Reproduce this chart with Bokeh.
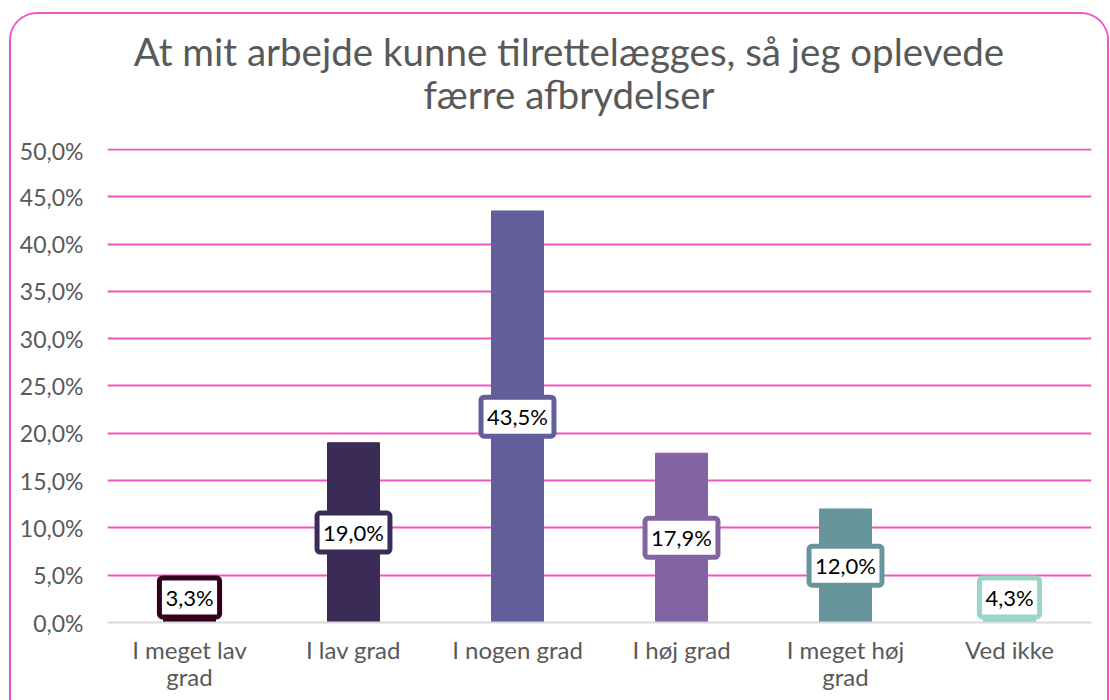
from bokeh.plotting import figure
from bokeh.models import Range1d, FixedTicker, ColumnDataSource
from bokeh.layouts import column
from bokeh.embed import file_html
from bokeh.resources import INLINE
from bokeh.core.properties import value

categories = ["I meget lav\ngrad", "I lav grad", "I nogen grad", "I høj grad", "I meget høj\ngrad", "Ved ikke"]
values = [3.3, 19.0, 43.5, 17.9, 12.0, 4.3]
labels = ["3,3%", "19,0%", "43,5%", "17,9%", "12,0%", "4,3%"]
colors = ["#33001f", "#3b2c57", "#635d9b", "#8264a2", "#68959c", "#9ad6c8"]
y_ticks = [0, 5, 10, 15, 20, 25, 30, 35, 40, 45, 50]
y_tick_labels = ["0,0%", "5,0%", "10,0%", "15,0%", "20,0%", "25,0%", "30,0%", "35,0%", "40,0%", "45,0%", "50,0%"]
title_lines = ["At mit arbejde kunne tilrettelægges, så jeg oplevede", "færre afbrydelser"]

FONT = "Lato"
GRID = "#f055c3"
W = 1096
TH = 122            # height of the title strip
H = 564             # height of the chart part
ML, MR, MT, MB = 96, 16, 12, 78

# ---- title strip (its own small figure, pixel coordinates) ----
pt = figure(width=W, height=TH, x_range=Range1d(0, W), y_range=Range1d(0, TH),
            x_axis_type=None, y_axis_type=None, output_backend="svg", toolbar_location=None,
            min_border=0, min_border_left=0, min_border_right=0, min_border_top=0,
            min_border_bottom=0)
pt.outline_line_color = None
pt.grid.visible = False
pt.border_fill_color = "white"
pt.text(x=[514, 514], y=[86, 43], text=title_lines, text_align="center", text_baseline="middle",
        text_font=value(FONT), text_font_size="38.5px", text_color="#595959")

# ---- chart ----
label_y = [max(v / 2, 2.65) for v in values]
src = ColumnDataSource(dict(x=categories, top=values, color=colors, label=labels, ly=label_y))

p = figure(width=W, height=H, x_range=categories, y_range=Range1d(0, 50.1),
           output_backend="svg", toolbar_location=None,
           min_border_left=ML, min_border_right=MR, min_border_top=MT, min_border_bottom=MB)
p.outline_line_color = None
p.background_fill_color = "white"
p.border_fill_color = "white"

p.vbar(x="x", top="top", width=0.317, color="color", source=src)
p.text(x="x", y="ly", text="label", source=src,
       text_align="center", text_baseline="middle",
       text_font=value(FONT), text_font_size="22px", text_color="black",
       background_fill_color="white", border_line_color="color", border_line_width=5,
       padding=6, border_radius=3)

# y axis
p.yaxis.ticker = FixedTicker(ticks=y_ticks)
p.yaxis.major_label_overrides = {t: l for t, l in zip(y_ticks, y_tick_labels)}
p.yaxis.axis_line_color = None
p.yaxis.major_tick_line_color = None
p.yaxis.minor_tick_line_color = None
p.yaxis.major_label_text_font = FONT
p.yaxis.major_label_text_font_size = "23px"
p.yaxis.major_label_text_color = "#595959"
p.yaxis.major_label_standoff = 18

# x axis
p.xaxis.axis_line_color = "#d9d9d9"
p.xaxis.axis_line_width = 2
p.xaxis.major_tick_line_color = None
p.xaxis.minor_tick_line_color = None
p.xaxis.major_label_text_font = FONT
p.xaxis.major_label_text_font_size = "24px"
p.xaxis.major_label_text_color = "#595959"
p.xaxis.major_label_text_line_height = 0.95
p.xaxis.major_label_standoff = 6

p.xgrid.grid_line_color = None
p.ygrid.ticker = FixedTicker(ticks=y_ticks[1:])
p.ygrid.grid_line_color = GRID
p.ygrid.grid_line_width = 2

layout = column(pt, p, spacing=0,
                styles={"margin-left": "9px", "margin-top": "12px",
                        "border": "2px solid " + GRID, "border-bottom": "none",
                        "border-radius": "28px 28px 0 0", "overflow": "hidden",
                        "background-color": "white"})

open("out.html", "w").write(file_html(layout, INLINE))
